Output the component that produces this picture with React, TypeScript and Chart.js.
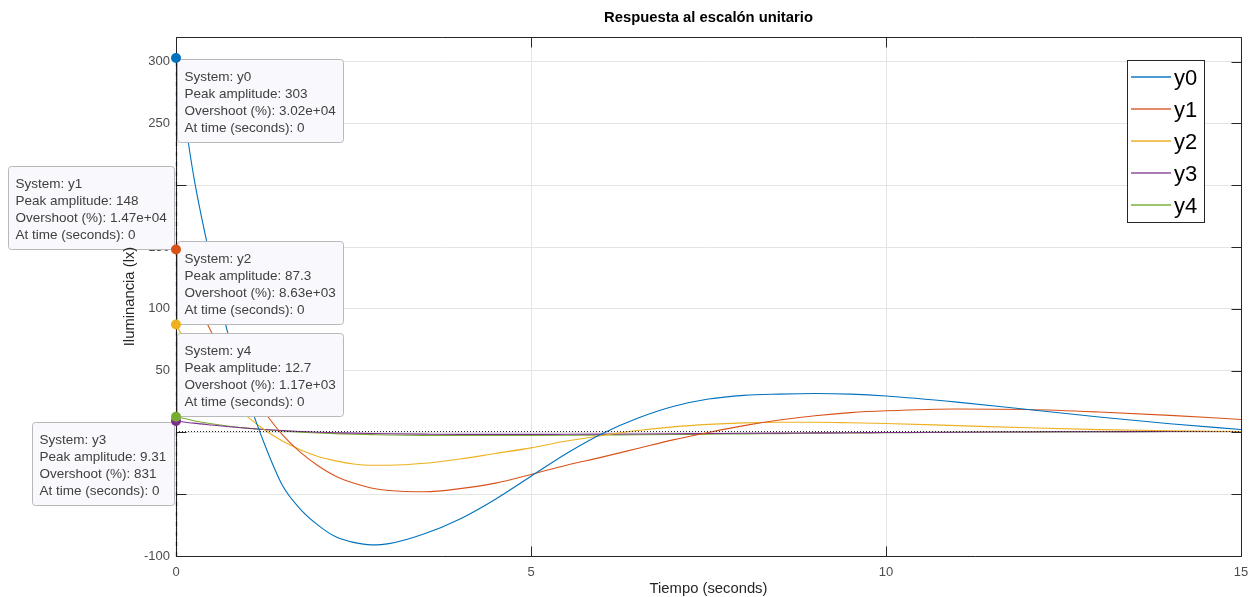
import React, { useEffect, useRef } from "react";
import { Chart, registerables } from "chart.js";

Chart.register(...registerables);

// ---------- data ----------
const time = [0, 0.25, 0.5, 0.75, 1, 1.25, 1.5, 1.75, 2, 2.25, 2.5, 2.75, 3, 3.5, 4, 4.5, 5, 5.5, 6, 6.5, 7, 7.5, 8, 8.5, 9, 9.5, 10, 11, 12, 13, 14, 15];

const y0 = [303, 207, 137, 76, 30, -10, -43, -62, -75, -84.5, -89, -91, -90, -82, -70, -54, -35.5, -17, -1, 11.5, 21, 27, 30, 31, 31.5, 31, 29.5, 24.5, 18.5, 12.5, 7, 2.4];
const y1 = [148, 112, 81, 56, 35, 16, -2, -16, -27, -35.5, -41, -45, -47, -48, -45.5, -41, -34, -26.5, -20, -13, -6, 0, 5.5, 10, 13.5, 16, 17.5, 19, 18.5, 16.5, 13.8, 10.5];
const y2 = [87.3, 62, 42, 26, 13, 2, -7, -14, -19.5, -23, -25.5, -26.5, -26.5, -25, -21.5, -17, -12.5, -7, -2.5, 1.5, 4.5, 6.5, 7.7, 8.2, 8.2, 7.8, 7.2, 5.5, 3.8, 2.3, 1.3, 0.8];
const y3 = [9.31, 7.5, 6, 4.6, 3.4, 2.4, 1.5, 0.8, 0.2, -0.2, -0.6, -0.9, -1.1, -1.4, -1.6, -1.6, -1.6, -1.5, -1.4, -1.25, -1.1, -0.9, -0.7, -0.55, -0.4, -0.25, -0.1, 0.2, 0.4, 0.6, 0.7, 0.8];
const y4 = [12.7, 9.5, 7, 5, 3.5, 2.2, 1.1, 0.2, -0.5, -1, -1.5, -1.8, -2.1, -2.4, -2.5, -2.5, -2.4, -2.3, -2.1, -1.9, -1.7, -1.45, -1.2, -0.95, -0.7, -0.5, -0.3, 0.1, 0.4, 0.6, 0.7, 0.8];

const seriesNames = ["y0", "y1", "y2", "y3", "y4"];
const seriesValues = [y0, y1, y2, y3, y4];
const seriesColors = ["#0072BD", "#D95319", "#EDB120", "#7E2F8E", "#77AC30"];
const legendColors = ["#4f9bd6", "#e58a68", "#f0c45c", "#a97ab4", "#9cc46c"];
const overshootLabels = ["3.02e+04", "1.47e+04", "8.63e+03", "831", "1.17e+03"];
const peakTimes = [0, 0, 0, 0, 0];
const steadyState = 1;

const xTicks = [0, 5, 10, 15];
const yTicks = [-100, -50, 0, 50, 100, 150, 200, 250, 300];

const titleText = "Respuesta al escalón unitario";
const xTitle = "Tiempo (seconds)";
const yTitle = "Iluminancia (lx)";

// datatip placement relative to its marker (styling only)
const tipDirs = ["se", "nw", "ne", "sw", "ne"];

const FONT = '"Liberation Sans", Arial, Helvetica, sans-serif';

function fmt3(v: number): string {
  return String(Number(v.toPrecision(3)));
}

function roundRect(ctx: CanvasRenderingContext2D, x: number, y: number, w: number, h: number, r: number) {
  ctx.beginPath();
  ctx.moveTo(x + r, y);
  ctx.lineTo(x + w - r, y);
  ctx.quadraticCurveTo(x + w, y, x + w, y + r);
  ctx.lineTo(x + w, y + h - r);
  ctx.quadraticCurveTo(x + w, y + h, x + w - r, y + h);
  ctx.lineTo(x + r, y + h);
  ctx.quadraticCurveTo(x, y + h, x, y + h - r);
  ctx.lineTo(x, y + r);
  ctx.quadraticCurveTo(x, y, x + r, y);
  ctx.closePath();
}

const overlayPlugin = {
  id: "matlabOverlay",
  afterDraw(chart: any) {
    const ctx: CanvasRenderingContext2D = chart.ctx;
    const a = chart.chartArea;
    const xs = chart.scales.x;
    const ys = chart.scales.y;
    ctx.save();

    const L = Math.round(a.left) + 0.5;
    const R = Math.round(a.right) + 0.5;
    const T = Math.round(a.top) + 0.5;
    const B = Math.round(a.bottom) + 0.5;

    // steady-state dotted line
    ctx.strokeStyle = "#222";
    ctx.lineWidth = 1;
    ctx.setLineDash([1, 2]);
    const py1 = Math.round(ys.getPixelForValue(steadyState)) + 0.5;
    ctx.beginPath();
    ctx.moveTo(xs.getPixelForValue(xTicks[0]), py1);
    ctx.lineTo(xs.getPixelForValue(xTicks[xTicks.length - 1]), py1);
    ctx.stroke();
    ctx.setLineDash([]);

    // frame and inward ticks
    ctx.strokeStyle = "#262626";
    ctx.lineWidth = 1;
    ctx.beginPath();
    ctx.rect(L, T, R - L, B - T);
    for (const v of yTicks) {
      const py = Math.round(ys.getPixelForValue(v)) + 0.5;
      ctx.moveTo(L, py);
      ctx.lineTo(L + 10, py);
      ctx.moveTo(R, py);
      ctx.lineTo(R - 10, py);
    }
    for (const v of xTicks) {
      const px = Math.round(xs.getPixelForValue(v)) + 0.5;
      ctx.moveTo(px, B);
      ctx.lineTo(px, B - 10);
      ctx.moveTo(px, T);
      ctx.lineTo(px, T + 10);
    }
    ctx.stroke();

    // peak dash-dot vertical line
    const peaks = seriesValues.map((s) => Math.max(...s));
    const maxPeak = Math.max(...peaks);
    ctx.strokeStyle = "#111";
    ctx.lineWidth = 1.3;
    ctx.setLineDash([5, 2, 1, 2]);
    ctx.beginPath();
    const pxPeak = Math.round(xs.getPixelForValue(peakTimes[0])) + 0.5;
    ctx.moveTo(pxPeak, B);
    ctx.lineTo(pxPeak, ys.getPixelForValue(maxPeak));
    ctx.stroke();
    ctx.setLineDash([]);
    ctx.lineWidth = 1;

    // datatips
    ctx.font = `13.5px ${FONT}`;
    ctx.textBaseline = "middle";
    ctx.textAlign = "left";
    seriesNames.forEach((name, i) => {
      const mx = xs.getPixelForValue(peakTimes[i]);
      const my = ys.getPixelForValue(peaks[i]);
      const lines = [
        `System: ${name}`,
        `Peak amplitude: ${fmt3(peaks[i])}`,
        `Overshoot (%): ${overshootLabels[i]}`,
        `At time (seconds): ${peakTimes[i]}`,
      ];
      const tw = Math.max(...lines.map((l) => ctx.measureText(l).width));
      const w = Math.round(tw + 15);
      const h = 83;
      const d = tipDirs[i];
      const left = d.includes("e") ? Math.round(mx) + 1 : Math.round(mx) - 2 - w;
      const top = d.includes("s") ? Math.round(my) + 1 : Math.round(my) - 1 - h;
      roundRect(ctx, left + 0.5, top + 0.5, w, h, 3);
      ctx.fillStyle = "#f9f9fd";
      ctx.fill();
      ctx.strokeStyle = "#b8b8b8";
      ctx.stroke();
      ctx.fillStyle = "#404040";
      lines.forEach((l, k) => ctx.fillText(l, left + 7.5, top + 18 + 17 * k));
    });

    // markers
    seriesNames.forEach((_, i) => {
      const mx = xs.getPixelForValue(peakTimes[i]);
      const my = ys.getPixelForValue(peaks[i]);
      ctx.beginPath();
      ctx.arc(mx, my, 5, 0, Math.PI * 2);
      ctx.fillStyle = seriesColors[i];
      ctx.fill();
    });

    // legend
    const lgRight = Math.round(a.right) - 37;
    const lgLeft = lgRight - 77;
    const lgTop = Math.round(a.top) + 23;
    const lgH = 162;
    ctx.fillStyle = "#ffffff";
    ctx.fillRect(lgLeft + 0.5, lgTop + 0.5, 77, lgH);
    ctx.strokeStyle = "#262626";
    ctx.lineWidth = 1;
    ctx.strokeRect(lgLeft + 0.5, lgTop + 0.5, 77, lgH);
    ctx.font = `22px ${FONT}`;
    seriesNames.forEach((name, i) => {
      const cy = lgTop + 17 + 32 * i;
      ctx.strokeStyle = legendColors[i];
      ctx.lineWidth = 2;
      ctx.beginPath();
      ctx.moveTo(lgLeft + 4, cy);
      ctx.lineTo(lgLeft + 44, cy);
      ctx.stroke();
      ctx.fillStyle = "#000";
      ctx.fillText(name, lgLeft + 47, cy + 2);
    });

    // titles
    const cx = (a.left + a.right) / 2;
    ctx.fillStyle = "#000";
    ctx.textAlign = "center";
    ctx.font = `bold 14.8px ${FONT}`;
    ctx.fillText(titleText, cx, 18);
    ctx.fillStyle = "#262626";
    ctx.font = `14.8px ${FONT}`;
    ctx.fillText(xTitle, cx, 589);
    ctx.save();
    ctx.translate(130, (a.top + a.bottom) / 2);
    ctx.rotate(-Math.PI / 2);
    ctx.fillText(yTitle, 0, 0);
    ctx.restore();

    ctx.restore();
  },
};

export default function App() {
  const ref = useRef<HTMLCanvasElement | null>(null);

  useEffect(() => {
    if (!ref.current) return;
    const datasets = seriesNames.map((name, i) => ({
      label: name,
      data: time.map((t, k) => ({ x: t, y: seriesValues[i][k] })),
      borderColor: seriesColors[i],
      backgroundColor: seriesColors[i],
      borderWidth: 1.1,
      pointRadius: 0,
      tension: 0.4,
      cubicInterpolationMode: "monotone" as const,
      fill: false,
    }));

    const chart = new Chart(ref.current, {
      type: "line",
      data: { datasets },
      options: {
        responsive: false,
        animation: false,
        devicePixelRatio: 1,
        layout: { padding: { top: 37, right: 9, bottom: 0, left: 0 } },
        plugins: {
          legend: { display: false },
          title: { display: false },
          tooltip: { enabled: false },
        },
        scales: {
          x: {
            type: "linear",
            min: 0,
            max: 15,
            afterBuildTicks: (scale: any) => {
              scale.ticks = xTicks.map((v) => ({ value: v }));
            },
            afterFit: (scale: any) => {
              scale.height = 41;
              scale.paddingLeft = 0;
              scale.paddingRight = 0;
            },
            grid: { color: "#e4e4e4", drawTicks: false, tickLength: 0 },
            border: { display: false },
            ticks: {
              padding: 9,
              color: "#4d4d4d",
              font: { family: FONT, size: 13 },
              maxRotation: 0,
            },
          },
          y: {
            type: "linear",
            min: -100,
            max: 320,
            afterBuildTicks: (scale: any) => {
              scale.ticks = yTicks.map((v) => ({ value: v }));
            },
            afterFit: (scale: any) => {
              scale.width = 176;
              scale.paddingTop = 0;
              scale.paddingBottom = 0;
            },
            grid: { color: "#e4e4e4", drawTicks: false, tickLength: 0 },
            border: { display: false },
            ticks: {
              padding: 6,
              color: "#4d4d4d",
              font: { family: FONT, size: 13 },
            },
          },
        },
      },
      plugins: [overlayPlugin],
    });
    return () => chart.destroy();
  }, []);

  return (
    <div style={{ position: "absolute", left: 0, top: 0, width: 1250, height: 597, background: "#fff" }}>
      <canvas ref={ref} width={1250} height={597} style={{ display: "block" }} />
    </div>
  );
}
